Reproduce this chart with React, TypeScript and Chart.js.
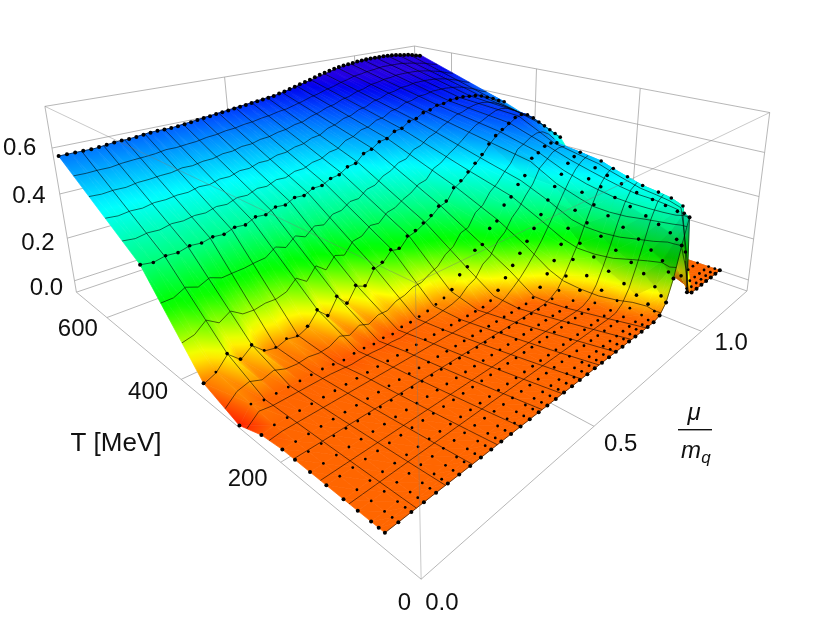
import React, { useEffect, useRef } from "react";
import { Chart, registerables } from "chart.js";
Chart.register(...registerables);

const T_MAX = 700, MU_MAX = 1.29, Z_MIN = -0.055, Z_MAX = 0.775;
const T_ROWS = [680, 470, 345, 275, 232, 195, 174, 150, 125, 100, 80, 62, 52, 44];
const MU_COLS = [0,.03,.06,.09,.12,.15,.18,.21,.24,.27,.3,.33,.36,.39,.42,.45,.48,.51,.54,.57,.6,.63,.66,.69,.72,.75,.78,.81,.84,.87,.9,.93,.96,.99,1.02,1.05,1.08,1.11,1.14,1.17,1.2,1.23,1.26,1.29];
const Z_680 = [.58,.58,.58,.58,.585,.59,.59,.595,.6,.6, .6,.605,.61,.615,.62,.625,.63,.635,.64,.645, .65,.655,.66,.67,.68,.69,.7,.71,.72,.73, .74,.745,.75,.755,.76,.76,.76,.76,.755,.75, .745,.74,.73,.725];
const Z_470 = [.32,.312,.322,.318,.33,.325,.335,.33,.345,.34, .36,.355,.375,.37,.39,.385,.405,.405,.425,.43, .455,.46,.495,.505,.53,.535,.56,.565,.59,.595, .615,.62,.635,.635,.645,.645,.645,.64,.635,.625, .61,.595,.575,.56];
const Z_345 = [.01,.03,.08,.035,.07,.025,.015,.03,.02,.04, .09,.045,.11,.06,.12,.1,.16,.17,.21,.2, .24,.25,.27,.29,.32,.33,.38,.4,.43,.46, .49,.53,.56,.58,.6,.62,.625,.615,.59,.56, .53,.5,.47,.44];
const Z_275 = [-.045,.01,0,0,0,0,0,0,-.005,-.01, -.005,-.005,-.01,-.005,-.01,0,0,.005,.01,.02, .03,.05,.1,.12,.18,.19,.25,.27,.33,.355, .4,.43,.5,.515,.535,.54,.53,.5,.46,.4, .35,.3,.25,.2];
const Z_232 = [-.01,0,0,0,0,0,0,0,0,0, 0,0,0,0,0,0,0,0,0,0, 0,0,0,.01,.04,.08,.12,.16,.2,.245, .295,.35,.4,.445,.485,.505,.515,.49,.44,.38, .32,.26,.18,.12];
const Z_195 = [0,0,0,0,0,0,0,0,0,0, 0,0,0,0,0,0,0,0,0,0, 0,0,0,0,0,0,.01,.04,.085,.13, .19,.25,.32,.39,.44,.48,.5,.47,.41,.33, .26,.17,.1,.05];
const Z_174 = [0,0,0,0,0,0,0,0,0,0, 0,0,0,0,0,0,0,0,0,0, 0,0,0,0,0,0,0,.01,.03,.08, .14,.2,.28,.35,.42,.46,.48,.44,.36,.27, .17,.09,.04,.02];
const Z_150 = [0,0,0,0,0,0,0,0,0,0, 0,0,0,0,0,0,0,0,0,0, 0,0,0,0,0,0,0,0,.01,.04, .09,.16,.24,.32,.39,.44,.46,.4,.3,.18, .08,.03,.01,0];
const Z_125 = [0,0,0,0,0,0,0,0,0,0, 0,0,0,0,0,0,0,0,0,0, 0,0,0,0,0,0,0,0,0,.01, .05,.12,.2,.29,.37,.42,.44,.34,.18,.07, .02,0,0,0];
const Z_100 = [0,0,0,0,0,0,0,0,0,0, 0,0,0,0,0,0,0,0,0,0, 0,0,0,0,0,0,0,0,0,.005, .03,.09,.17,.26,.35,.41,.43,.25,.08,.01, 0,0,0,0];
const Z_80 = [0,0,0,0,0,0,0,0,0,0, 0,0,0,0,0,0,0,0,0,0, 0,0,0,0,0,0,0,0,0,0, .02,.06,.14,.23,.33,.4,.42,.15,.02,0, 0,0,0,0];
const Z_62 = [0,0,0,0,0,0,0,0,0,0, 0,0,0,0,0,0,0,0,0,0, 0,0,0,0,0,0,0,0,0,0, .01,.04,.1,.2,.31,.39,.4,.06,0,0, 0,0,0,0];
const Z_52 = [0,0,0,0,0,0,0,0,0,0, 0,0,0,0,0,0,0,0,0,0, 0,0,0,0,0,0,0,0,0,0, 0,.02,.07,.16,.29,.39,.2,.01,0,0, 0,0,0,0];
const Z_44 = [0,0,0,0,0,0,0,0,0,0, 0,0,0,0,0,0,0,0,0,0, 0,0,0,0,0,0,0,0,0,0, 0,.01,.05,.14,.27,.38,.02,0,0,0, 0,0,0,0];
const Z_TABLE = [Z_680, Z_470, Z_345, Z_275, Z_232, Z_195, Z_174, Z_150, Z_125, Z_100, Z_80, Z_62, Z_52, Z_44];
const FAR_DOT_MU = [0,.02,.04,.06,.08,.1,.12,.14,.16,.18,.2,.22,.24,.26,.28,.3,.32,.34,.36,.38,.4,.42,.44,.46,.48,.5,.52,.54,.56,.58,.6,.62,.64,.66,.68,.7,.72,.74,.76,.78,.8,.82,.84,.86,.88,.9,.92,.94,.96,.98,1,1.02,1.04,1.06,1.08,1.1,1.12,1.14,1.16,1.18,1.2,1.22,1.24,1.26,1.28];
const FAR_DOT_Z = [.58,.58,.58,.58,.58,.582,.585,.588,.59,.59, .592,.595,.598,.6,.6,.6,.602,.605,.608,.612, .615,.618,.622,.625,.628,.632,.635,.638,.642,.645, .648,.652,.655,.662,.668,.675,.682,.69,.697,.704, .712,.72,.726,.732,.738,.743,.747,.75,.753,.756, .758,.76,.76,.76,.76,.76,.76,.758,.756,.752, .748,.745,.74,.732,.727];

const MESH_T = [638, 596, 554, 512, 470, 428, 386, 344, 302, 260, 218, 176, 134, 92];
const MESH_MU_FAR = [.056,.112,.168,.224,.28,.336,.392,.448,.504,.56,.616,.672,.728,.784,.84,.896,.952,1.008,1.064,1.12,1.176,1.232];
const MESH_MU_NEAR = [.072,.144,.216,.288,.36,.432,.504,.576,.648,.72,.792,.864,.936,1,1.02,1.04,1.05,1.06,1.07,1.08,1.085,1.09];
const Z_TICKS = [0, 0.2, 0.4, 0.6];
const T_TICKS = [0, 200, 400, 600];
const MU_TICKS = [0, 0.5, 1];
const HUE_Z = [-.05, 0, .08, .2, .32, .45, .58, .72];
const HUE_H = [6, 24, 60, 115, 150, 180, 212, 250];

const CORNERS: number[][] = [
  [0,0,0,418,583],[0,0,1,418,282],[1,0,0,76,292],[1,0,1,39,104],
  [0,1,0,753,290],[0,1,1,771,111],[1,1,1,414,42],
];
function fitCamera(): number[] {
  let sol:number[]=[0,0,0,0,0,0,0,0,0,0,0];
  for(let pass=0;pass<6;pass++){
    const rows: number[][] = [];
    for (const [u,v,w,x,y] of CORNERS) {
      const W=sol[8]*u+sol[9]*v+sol[10]*w+1;
      const a=[u,v,w,1,0,0,0,0,-x*u,-x*v,-x*w,x].map(q=>q/W);
      const b=[0,0,0,0,u,v,w,1,-y*u,-y*v,-y*w,y].map(q=>q/W);
      rows.push(a,b);
    }
    const n = 11;
    const m = Array.from({length:n},()=>new Array(n+1).fill(0));
    for (const r of rows) for (let i=0;i<n;i++) { for (let j=0;j<n;j++) m[i][j]+=r[i]*r[j]; m[i][n]+=r[i]*r[n]; }
    for (let i=0;i<n;i++) {
      let p=i; for (let k=i+1;k<n;k++) if (Math.abs(m[k][i])>Math.abs(m[p][i])) p=k;
      [m[i],m[p]]=[m[p],m[i]];
      for (let k=0;k<n;k++) if (k!==i) { const f=m[k][i]/m[i][i]; for (let j=i;j<=n;j++) m[k][j]-=f*m[i][j]; }
    }
    sol=m.map((r,i)=>r[n]/r[i]);
  }
  return sol;
}
const CAM = fitCamera();
type P = {x:number,y:number,W:number};
function project(T:number, mu:number, z:number): P {
  const u=T/T_MAX, v=mu/MU_MAX, w=(z-Z_MIN)/(Z_MAX-Z_MIN);
  const W=CAM[8]*u+CAM[9]*v+CAM[10]*w+1;
  return {x:(CAM[0]*u+CAM[1]*v+CAM[2]*w+CAM[3])/W, y:(CAM[4]*u+CAM[5]*v+CAM[6]*w+CAM[7])/W, W};
}
function hueOf(z:number){
  if (z<=HUE_Z[0]) return HUE_H[0];
  for (let i=1;i<HUE_Z.length;i++) if (z<=HUE_Z[i]) {
    const t=(z-HUE_Z[i-1])/(HUE_Z[i]-HUE_Z[i-1]); return HUE_H[i-1]+t*(HUE_H[i]-HUE_H[i-1]);
  }
  return HUE_H[HUE_H.length-1];
}
const colorOf=(z:number,shade:number)=>{
  const top=z>.62?(z-.62)*55:0;
  return `hsl(${hueOf(z).toFixed(1)},100%,${(50-top-shade).toFixed(1)}%)`;
};

type Tri={p:P[],z:number[],W:number,shade:number,cache?:any};
function buildTris():Tri[]{
  const out:Tri[]=[];
  const node=(r:number,c:number)=>project(T_ROWS[r],MU_COLS[c],Z_TABLE[r][c]);
  const shadeOf=(r:number,c:number)=>{
    if(c<31)return 0;
    const s=Math.abs(Z_TABLE[r][c+1]-Z_TABLE[r][c])/0.03;
    return Math.max(0,Math.min(13,(s-2)*6));
  };
  for(let r=0;r<T_ROWS.length-1;r++)for(let c=0;c<MU_COLS.length-1;c++){
    const corners:[number,number][][]=[[[r,c],[r+1,c],[r+1,c+1]],[[r,c],[r+1,c+1],[r,c+1]]];
    corners.forEach((k,idx)=>{
      const p=k.map(([a,b])=>node(a,b)); const z=k.map(([a,b])=>Z_TABLE[a][b]);
      out.push({p,z,W:(p[0].W+p[1].W+p[2].W)/3,shade:shadeOf(idx===0?r+1:r,c)});
    });
  }
  return out;
}
const TRIS=buildTris();
function visible(q:P){
  for(const t of TRIS){
    const [a,b,c]=t.p;
    const d=(b.y-c.y)*(a.x-c.x)+(c.x-b.x)*(a.y-c.y);
    if(Math.abs(d)<1e-6)continue;
    const l1=((b.y-c.y)*(q.x-c.x)+(c.x-b.x)*(q.y-c.y))/d;
    const l2=((c.y-a.y)*(q.x-c.x)+(a.x-c.x)*(q.y-c.y))/d;
    const l3=1-l1-l2;
    if(l1<0||l2<0||l3<0)continue;
    const W=l1*a.W+l2*b.W+l3*c.W;
    if(W<q.W-0.012)return false;
  }
  return true;
}
function gradientFor(chart:any,t:Tri){
  if(t.cache)return t.cache;
  const sx=chart.scales.x, sy=chart.scales.y;
  const mean=(t.z[0]+t.z[1]+t.z[2])/3;
  if(!chart.chartArea||!sx||!sy)return colorOf(mean,t.shade);
  const px=t.p.map(q=>({x:sx.getPixelForValue(q.x),y:sy.getPixelForValue(q.y)}));
  if(px.some(q=>!isFinite(q.x)||!isFinite(q.y)))return colorOf(mean,t.shade);
  const [z0,z1,z2]=t.z;
  const zmin=Math.min(z0,z1,z2), zmax=Math.max(z0,z1,z2);
  if(zmax-zmin<1e-4){t.cache=colorOf(zmin,t.shade);return t.cache;}
  const ax=px[1].x-px[0].x, ay=px[1].y-px[0].y, bx=px[2].x-px[0].x, by=px[2].y-px[0].y;
  const det=ax*by-ay*bx;
  if(Math.abs(det)<1e-3){t.cache=colorOf(mean,t.shade);return t.cache;}
  const gx=((z1-z0)*by-(z2-z0)*ay)/det, gy=((z2-z0)*ax-(z1-z0)*bx)/det;
  const g2=gx*gx+gy*gy;
  const i=t.z.indexOf(zmin), s=px[i], dz=zmax-zmin;
  const grad=chart.ctx.createLinearGradient(s.x,s.y,s.x+gx*dz/g2,s.y+gy*dz/g2);
  const n=Math.max(2,Math.ceil(dz/0.02)+1);
  for(let k=0;k<n;k++){const f=k/(n-1);grad.addColorStop(f,colorOf(zmin+f*dz,t.shade));}
  t.cache=grad;return grad;
}
function zAtT(T:number,c:number){
  for(let r=0;r<T_ROWS.length-1;r++) if(T<=T_ROWS[r]&&T>=T_ROWS[r+1]){
    const f=(T_ROWS[r]-T)/(T_ROWS[r]-T_ROWS[r+1]); return Z_TABLE[r][c]*(1-f)+Z_TABLE[r+1][c]*f;
  }
  return 0;
}
function zAtMu(r:number,mu:number){
  const c=Math.min(MU_COLS.length-2,Math.floor(mu/0.03+1e-9));
  const f=(mu-MU_COLS[c])/(MU_COLS[c+1]-MU_COLS[c]);
  return Z_TABLE[r][c]*(1-f)+Z_TABLE[r][c+1]*f;
}
function lineSet(points:P[],color:string,width:number){
  return {type:"line",data:points.map(p=>({x:p.x,y:p.y})),borderColor:color,borderWidth:width,pointRadius:0,fill:false,tension:0};
}
function visibleRuns(points:P[]){
  const runs:P[][]=[]; let cur:P[]=[];
  for(const p of points){ if(visible(p))cur.push(p); else { if(cur.length>1)runs.push(cur); cur=[]; } }
  if(cur.length>1)runs.push(cur);
  return runs;
}
function buildDatasets(){
  const GRID="rgba(165,165,165,0.8)", FRONT="rgba(120,120,120,0.4)";
  const top:any[]=[];
  const fr=[[[0,0,Z_MIN],[0,0,Z_MAX]],[[0,0,Z_MAX],[T_MAX,0,Z_MAX]],[[0,0,Z_MAX],[0,MU_MAX,Z_MAX]]];
  for(const [a,b] of fr) top.push(lineSet([project(a[0],a[1],a[2]),project(b[0],b[1],b[2])],FRONT,1));
  const edge:any[]=[], inner:any[]=[], crest:any[]=[];
  T_ROWS.forEach((T,r)=>{ if(r===0)return; MU_COLS.forEach((mu,c)=>{
    const p=project(T,mu,Z_TABLE[r][c]);
    if(!visible(p))return;
    const d={x:p.x,y:p.y};
    if(c===0||r===T_ROWS.length-1)edge.push(d);
    else if(Z_TABLE[r][c]>0.03)crest.push(d);
    else inner.push(d);
  });});
  FAR_DOT_MU.forEach((mu,i)=>{const p=project(T_ROWS[0],mu,FAR_DOT_Z[i]); if(visible(p))edge.push({x:p.x,y:p.y});});
  const dots=(data:any[],radius:number)=>({type:"line",data,showLine:false,pointRadius:radius,pointBackgroundColor:"#000",pointBorderWidth:0,fill:false});
  top.push(dots(edge,2),dots(crest,1.8),dots(inner,1.4));
  const MESH="rgba(0,0,0,0.72)";
  for(const T of [T_ROWS[0],...MESH_T,T_ROWS[T_ROWS.length-1]]){
    const pts=MU_COLS.map((mu,c)=>project(T,mu,zAtT(T,c)));
    for(const run of visibleRuns(pts))top.push(lineSet(run,MESH,0.8));
  }
  MESH_MU_FAR.forEach((far,j)=>{
    const near=MESH_MU_NEAR[j];
    const pts=T_ROWS.map((T,r)=>{
      const s=Math.pow((T_ROWS[0]-T)/(T_ROWS[0]-T_ROWS[T_ROWS.length-1]),2);
      const mu=Math.min(MU_MAX,far+(near-far)*s);
      return project(T,mu,zAtMu(r,mu));
    });
    for(const run of visibleRuns(pts))top.push(lineSet(run,MESH,0.8));
  });
  const sorted=[...TRIS].sort((a,b)=>a.W-b.W);
  const surface=sorted.map(t=>{
    const paint=(ctx:any)=>gradientFor(ctx.chart,t);
    const d=[...t.p,t.p[0]].map(p=>({x:p.x,y:p.y}));
    return {type:"line",data:d,fill:"shape",backgroundColor:paint,borderColor:paint,borderWidth:0.7,pointRadius:0,tension:0};
  });
  const back:any[]=[];
  const seg=(a:number[],b:number[],color=GRID)=>back.push(lineSet([project(a[0],a[1],a[2]),project(b[0],b[1],b[2])],color,1));
  const tm=T_MAX,mm=MU_MAX,z0=Z_MIN,z1=Z_MAX;
  seg([0,0,z0],[tm,0,z0]);seg([0,0,z0],[0,mm,z0]);seg([tm,0,z0],[tm,mm,z0]);seg([0,mm,z0],[tm,mm,z0]);
  seg([tm,0,z1],[tm,mm,z1]);seg([0,mm,z1],[tm,mm,z1]);
  seg([tm,0,z0],[tm,0,z1]);seg([0,mm,z0],[0,mm,z1]);seg([tm,mm,z0],[tm,mm,z1]);
  for(const z of Z_TICKS){seg([tm,0,z],[tm,mm,z]);seg([0,mm,z],[tm,mm,z]);}
  for(const T of T_TICKS.slice(1)){seg([T,0,z0],[T,mm,z0]);seg([T,mm,z0],[T,mm,z1]);}
  for(const mu of MU_TICKS.slice(1)){seg([0,mu,z0],[tm,mu,z0]);seg([tm,mu,z0],[tm,mu,z1]);}
  return [...top,...surface,...back];
}
const labelPlugin={
  id:"boxLabels",
  afterDraw(chart:any){
    const {ctx,scales:{x:sx,y:sy}}=chart;
    const at=(p:P)=>({x:sx.getPixelForValue(p.x),y:sy.getPixelForValue(p.y)});
    ctx.save();ctx.fillStyle="#111";ctx.textBaseline="middle";
    ctx.font='24px "Liberation Sans"';
    ctx.textAlign="center";
    for(const z of Z_TICKS){const q=at(project(T_MAX,0,z));ctx.fillText(z.toFixed(1),q.x-28-z*7,q.y+8-z*13);}
    ctx.textAlign="right";
    const tOff:any={0:[-10,24],200:[-13,17],400:[-13,13],600:[-9,12]};
    for(const T of T_TICKS){const q=at(project(T,0,Z_MIN));ctx.fillText(String(T),q.x+tOff[T][0],q.y+tOff[T][1]);}
    ctx.textAlign="left";
    const mOff:any={0:[4,24],0.5:[10,18],1:[13,12]};
    for(const m of MU_TICKS){const q=at(project(0,m,Z_MIN));ctx.fillText(m.toFixed(1),q.x+mOff[m][0],q.y+mOff[m][1]);}
    ctx.textAlign="center";
    ctx.font='26px "Liberation Sans"';
    ctx.fillText("T [MeV]",116,444);
    ctx.font='italic 24px "Liberation Sans"';
    ctx.fillText("\u03BC",694,413);
    ctx.fillRect(678,429,34,1.4);
    ctx.fillText("m",691,451);
    ctx.font='italic 17px "Liberation Sans"';
    ctx.fillText("q",706,458);
    ctx.restore();
  }
};
export default function App(){
  const ref=useRef<HTMLCanvasElement>(null);
  useEffect(()=>{
    if(!ref.current)return;
    const chart=new Chart(ref.current,{
      type:"line",
      data:{datasets:buildDatasets() as any},
      options:{
        animation:false,responsive:false,events:[],
        layout:{padding:0},
        plugins:{legend:{display:false},tooltip:{enabled:false}},
        scales:{
          x:{type:"linear",min:0,max:830,display:false},
          y:{type:"linear",min:0,max:625,reverse:true,display:false},
        },
      },
      plugins:[labelPlugin as any],
    });
    return()=>chart.destroy();
  },[]);
  return <div style={{position:"absolute",left:0,top:0,width:830,height:625,background:"#fff"}}><canvas ref={ref} width={830} height={625} style={{display:"block"}}/></div>;
}
